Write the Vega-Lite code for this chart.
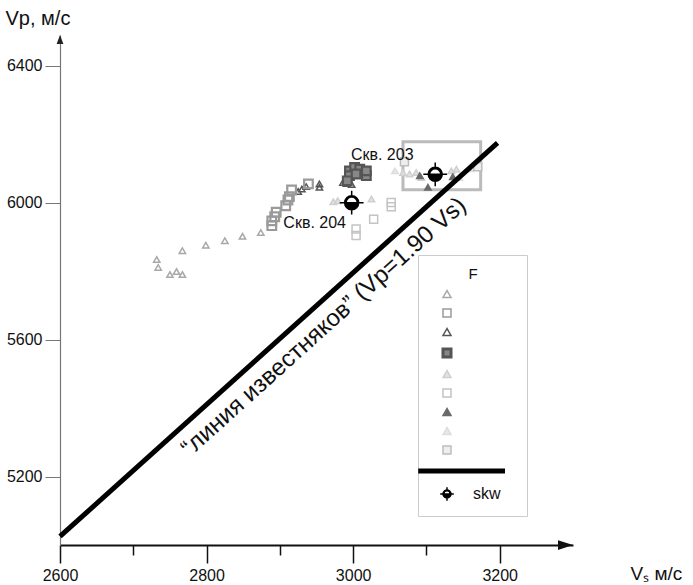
{
  "$schema": "https://vega.github.io/schema/vega-lite/v6.json",
  "width": 513,
  "height": 510,
  "autosize": {"type": "none"},
  "padding": {"left": 60, "top": 35, "right": 120, "bottom": 40},
  "background": "white",
  "config": {"view": {"stroke": null}, "font": "Liberation Sans", "axis": {"grid": false}},
  "datasets": {
    "pts": [
      {"series": "s1", "vs": 2732, "vp": 5834}, {"series": "s1", "vs": 2734, "vp": 5811}, {"series": "s1", "vs": 2750, "vp": 5790},
      {"series": "s1", "vs": 2759, "vp": 5799}, {"series": "s1", "vs": 2767, "vp": 5790}, {"series": "s1", "vs": 2767, "vp": 5860},
      {"series": "s1", "vs": 2799, "vp": 5876}, {"series": "s1", "vs": 2825, "vp": 5889}, {"series": "s1", "vs": 2849, "vp": 5902},
      {"series": "s1", "vs": 2874, "vp": 5913},
      {"series": "s2", "vs": 2889, "vp": 5933}, {"series": "s2", "vs": 2889, "vp": 5947}, {"series": "s2", "vs": 2893, "vp": 5959},
      {"series": "s2", "vs": 2895, "vp": 5972}, {"series": "s2", "vs": 2908, "vp": 5991}, {"series": "s2", "vs": 2911, "vp": 6008},
      {"series": "s2", "vs": 2913, "vp": 6018}, {"series": "s2", "vs": 2916, "vp": 6037}, {"series": "s2", "vs": 2939, "vp": 6055},
      {"series": "s3", "vs": 2925, "vp": 6033}, {"series": "s3", "vs": 2930, "vp": 6040}, {"series": "s3", "vs": 2936, "vp": 6047},
      {"series": "s3", "vs": 2954, "vp": 6055}, {"series": "s3", "vs": 2954, "vp": 6045}, {"series": "s3", "vs": 2986, "vp": 6059},
      {"series": "s3", "vs": 2991, "vp": 6056}, {"series": "s3", "vs": 2998, "vp": 6053},
      {"series": "s4", "vs": 2995, "vp": 6093}, {"series": "s4", "vs": 3002, "vp": 6103}, {"series": "s4", "vs": 3009, "vp": 6098},
      {"series": "s4", "vs": 2995, "vp": 6079}, {"series": "s4", "vs": 3004, "vp": 6084}, {"series": "s4", "vs": 3018, "vp": 6079},
      {"series": "s4", "vs": 2992, "vp": 6064}, {"series": "s4", "vs": 3018, "vp": 6093},
      {"series": "s5", "vs": 2973, "vp": 6003}, {"series": "s5", "vs": 2979, "vp": 6006}, {"series": "s5", "vs": 3025, "vp": 6011},
      {"series": "s5", "vs": 3068, "vp": 6088}, {"series": "s5", "vs": 3077, "vp": 6084}, {"series": "s5", "vs": 3086, "vp": 6088},
      {"series": "s5", "vs": 3093, "vp": 6074}, {"series": "s5", "vs": 3134, "vp": 6093}, {"series": "s5", "vs": 3141, "vp": 6098},
      {"series": "s6", "vs": 3004, "vp": 5923}, {"series": "s6", "vs": 3004, "vp": 5904}, {"series": "s6", "vs": 3052, "vp": 6001},
      {"series": "s6", "vs": 3052, "vp": 5988}, {"series": "s6", "vs": 3028, "vp": 5952},
      {"series": "s7", "vs": 3091, "vp": 6079}, {"series": "s7", "vs": 3102, "vp": 6045}, {"series": "s7", "vs": 3136, "vp": 6076},
      {"series": "s8", "vs": 3145, "vp": 6074}, {"series": "s8", "vs": 3159, "vp": 6099}, {"series": "s8", "vs": 3057, "vp": 6093},
      {"series": "s9", "vs": 3070, "vp": 6120}, {"series": "s9", "vs": 3170, "vp": 6105}
    ],
    "skw": [
      {"series": "skw", "vs": 2998, "vp": 6000, "well": "Скв. 204"},
      {"series": "skw", "vs": 3112, "vp": 6083, "well": "Скв. 203"}
    ],
    "line": [
      {"vs": 2600, "vp": 5025},
      {"vs": 3197, "vp": 6175}
    ],
    "linelabel": [
      {"vs": 2941, "vp": 5682, "text": "“линия известняков” (Vp=1.90 Vs)"}
    ],
    "box": [
      {"vs": 3068, "vs2": 3174, "vp": 6038, "vp2": 6178}
    ],
    "xarrow": [{"vs": 3300, "vp": 5000}],
    "yarrow": [{"vs": 2600, "vp": 6490}]
  },
  "encoding": {
    "x": {
      "field": "vs", "type": "quantitative",
      "scale": {"domain": [2600, 3300], "nice": false, "zero": false},
      "axis": {
        "title": "Vₛ м/с",
        "values": [2600, 2700, 2800, 2900, 3000, 3100, 3200],
        "format": "d",
        "labelExpr": "datum.value % 200 === 0 ? datum.label : ''",
        "labelFlush": false,
        "domainColor": "#111", "domainWidth": 2,
        "tickColor": "#111", "tickWidth": 1.5,
        "tickSize": {"condition": {"test": "datum.value % 200 === 0", "value": 18}, "value": 10},
        "labelFontSize": 16, "labelColor": "#111", "labelPadding": 4,
        "labelFont": "Liberation Sans",
        "titleFontSize": 19, "titleFontWeight": "normal", "titleColor": "#111",
        "titleX": 570, "titleY": 28, "titleAlign": "left", "titleBaseline": "middle"
      }
    },
    "y": {
      "field": "vp", "type": "quantitative",
      "scale": {"domain": [5000, 6490], "nice": false, "zero": false},
      "axis": {
        "title": "Vp, м/с",
        "values": [5200, 5600, 6000, 6400],
        "format": "d",
        "labelFlush": false,
        "domainColor": "#777", "domainWidth": 1.2,
        "tickColor": "#777", "tickSize": 15, "tickWidth": 1,
        "labelFontSize": 16, "labelColor": "#111", "labelPadding": 3,
        "titleAngle": 0, "titleX": -55, "titleY": -17, "titleAlign": "left", "titleBaseline": "middle",
        "titleFontSize": 20, "titleFontWeight": "normal", "titleColor": "#111"
      }
    }
  },
  "layer": [
    {
      "data": {"name": "box"},
      "mark": {"type": "rect", "fill": "transparent", "stroke": "#bbb", "strokeWidth": 3},
      "encoding": {"x2": {"field": "vs2"}, "y2": {"field": "vp2"}}
    },
    {
      "data": {"name": "pts"},
      "transform": [{"filter": "datum.series !== 's2' && datum.series !== 's4'"}],
      "mark": {"type": "point", "opacity": 1},
      "encoding": {
        "shape": {
          "field": "series", "type": "nominal",
          "scale": {
            "domain": ["s1", "s2", "s3", "s4", "s5", "s6", "s7", "s8", "s9", "Vp=1.90Vs", "skw"],
            "range": ["triangle-up", "square", "triangle-up", "square", "triangle-up", "square", "triangle-up", "triangle-up", "square", "M-7.2,0 L14.5,0", "M-1,0 A1,1 0 0 0 1,0 Z M-1,0 A1,1 0 0 1 1,0 L0.8,0 A0.8,0.8 0 0 0 -0.8,0 Z M-1.7,0 L1.7,0 M0,-1.7 L0,-1 M0,1 L0,1.7"]
          },
          "legend": {
            "orient": "none", "legendX": 358, "legendY": 220,
            "title": "F", "titleFontSize": 15, "titleFontWeight": "normal", "titleColor": "#111", "titlePadding": 4,
            "titleAnchor": "middle",
            "strokeColor": "#ccc", "padding": 12,
            "symbolSize": 64, "symbolOffset": 9, "labelFontSize": 16, "labelColor": "#111", "rowPadding": 3,
            "labelOffset": 18,
            "symbolStrokeWidth": {"expr": "datum.value === 'Vp=1.90Vs' ? 5 : (datum.value === 's4' ? 3 : 1.5)"},
            "labelExpr": "datum.value === 'skw' ? 'skw' : ''",
            "encode": {
              "symbols": {
                "update": {
                  "size": {"signal": "datum.value === 'skw' ? 190 : 64"}
                }
              }
            }
          }
        },
        "stroke": {
          "field": "series", "type": "nominal",
          "scale": {
            "domain": ["s1", "s2", "s3", "s4", "s5", "s6", "s7", "s8", "s9", "Vp=1.90Vs", "skw"],
            "range": ["#a8a8a8", "#9a9a9a", "#555555", "#555555", "#cfcfcf", "#c4c4c4", "#6a6a6a", "#dddddd", "#bdbdbd", "#000000", "#000000"]
          }
        },
        "fill": {
          "field": "series", "type": "nominal",
          "scale": {
            "domain": ["s1", "s2", "s3", "s4", "s5", "s6", "s7", "s8", "s9", "Vp=1.90Vs", "skw"],
            "range": ["transparent", "transparent", "transparent", "#888888", "#e2e2e2", "transparent", "#6a6a6a", "#e8e8e8", "#eeeeee", "transparent", "#000000"]
          }
        },
        "size": {"condition": {"test": "datum.series === 's6' || datum.series === 's9'", "value": 64}, "value": 40},
        "strokeWidth": {"value": 1.5}
      }
    },
    {
      "data": {"name": "pts"},
      "transform": [{"filter": "datum.series === 's2' || datum.series === 's4'"}],
      "mark": {"type": "point", "opacity": 1, "size": 75},
      "encoding": {
        "shape": {"field": "series", "type": "nominal"},
        "stroke": {"field": "series", "type": "nominal"},
        "fill": {"field": "series", "type": "nominal"},
        "strokeWidth": {"value": 2.2}
      }
    },
    {
      "data": {"name": "line"},
      "mark": {"type": "line", "color": "#000", "strokeWidth": 5},
      "encoding": {}
    },
    {
      "data": {"name": "linelabel"},
      "mark": {"type": "text", "angle": -42, "align": "center", "baseline": "middle", "dy": 21, "fontSize": 24, "color": "#111", "font": "Liberation Sans"},
      "encoding": {"text": {"field": "text"}}
    },
    {
      "data": {"name": "skw"},
      "mark": {"type": "point", "opacity": 1, "size": 196},
      "encoding": {
        "shape": {"field": "series", "type": "nominal"},
        "stroke": {"field": "series", "type": "nominal"},
        "fill": {"field": "series", "type": "nominal"},
        "strokeWidth": {"value": 1.5}
      }
    },
    {
      "data": {"name": "skw"},
      "transform": [{"filter": "datum.well === 'Скв. 204'"}],
      "mark": {"type": "text", "dx": -37, "dy": 20, "fontSize": 16, "color": "#111", "font": "Liberation Sans"},
      "encoding": {"text": {"field": "well"}}
    },
    {
      "data": {"name": "skw"},
      "transform": [{"filter": "datum.well === 'Скв. 203'"}],
      "mark": {"type": "text", "dx": -53, "dy": -19, "fontSize": 16, "color": "#111", "font": "Liberation Sans"},
      "encoding": {"text": {"field": "well"}}
    },
    {
      "data": {"name": "xarrow"},
      "mark": {"type": "point", "shape": "M-2,-0.65 L0,0 L-2,0.65 Z", "size": 225, "filled": true, "color": "#111", "opacity": 1}
    },
    {
      "data": {"name": "yarrow"},
      "mark": {"type": "point", "shape": "M-0.75,2 L0,0 L0.75,2 Z", "size": 81, "filled": true, "color": "#222", "opacity": 1}
    }
  ]
}
